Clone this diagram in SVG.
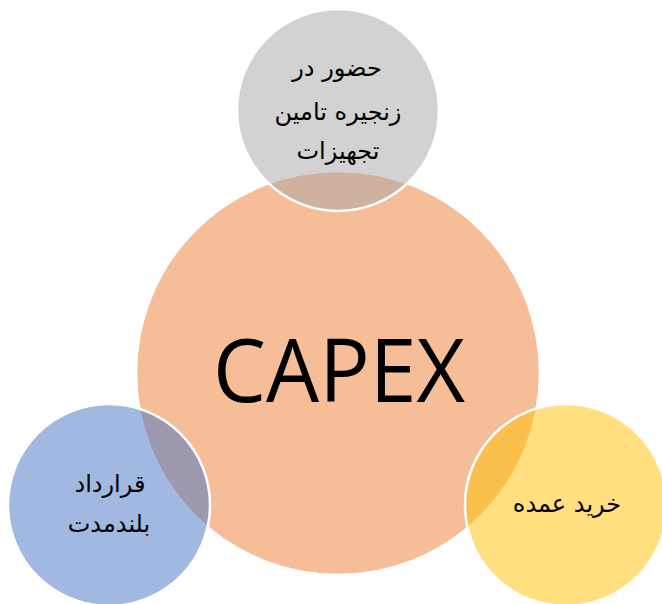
<svg xmlns="http://www.w3.org/2000/svg" width="662" height="604" viewBox="0 0 662 604">
<style>
.c{stroke:#fff;stroke-width:2.5}
.fa{font-family:"DejaVu Serif","DejaVu Sans",serif;font-size:24px;fill:#000;text-anchor:middle}
.big{font-family:"Open Sans","Liberation Sans",sans-serif;font-size:87px;fill:#000;text-anchor:middle}
</style>
<rect width="662" height="604" fill="#fff"/>
<g id="capex">
<circle class="c" cx="338" cy="373" r="202" fill="#ED7D31" fill-opacity="0.5"/>
<text class="big" x="339" y="402" textLength="252" lengthAdjust="spacingAndGlyphs">CAPEX</text>
</g>
<g id="supply-chain">
<circle class="c" cx="338" cy="110" r="101" fill="#A5A5A5" fill-opacity="0.5"/>
<text class="fa" x="337" y="76" direction="rtl">حضور در</text>
<text class="fa" x="338" y="120" direction="rtl">زنجیره تامین</text>
<text class="fa" x="338" y="159" direction="rtl">تجهیزات</text>
</g>
<g id="long-term-contract">
<circle class="c" cx="109" cy="505" r="101" fill="#4472C4" fill-opacity="0.5"/>
<text class="fa" x="110" y="492" direction="rtl">قرارداد</text>
<text class="fa" x="109" y="532" direction="rtl">بلندمدت</text>
</g>
<g id="bulk-purchase">
<circle class="c" cx="566" cy="505" r="101" fill="#FFC000" fill-opacity="0.5"/>
<text class="fa" x="567" y="512" direction="rtl">خرید عمده</text>
</g>
<g id="connectors"/>
</svg>
